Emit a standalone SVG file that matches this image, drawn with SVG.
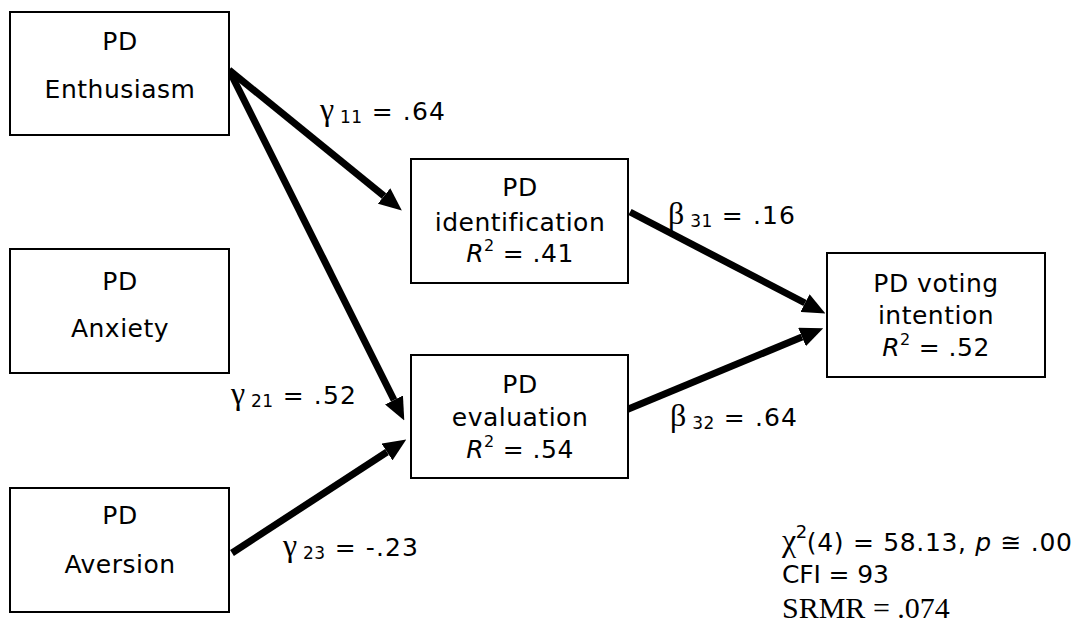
<svg xmlns="http://www.w3.org/2000/svg" width="1085" height="626" viewBox="0 0 1085 626">
<style>
  .box { fill: #fff; stroke: #000; stroke-width: 2; }
  .t { font-family: "DejaVu Sans", Verdana, sans-serif; font-size: 25px; letter-spacing: 0.5px; fill: #000; }
  .c { text-anchor: middle; }
  .lab { font-family: "DejaVu Sans", Verdana, sans-serif; font-size: 25px; letter-spacing: 1.1px; fill: #000; }
  .g { font-family: "Liberation Serif", "Times New Roman", serif; font-size: 32px; letter-spacing: 0; }
  .sub { font-size: 17px; letter-spacing: 0.5px; }
  .sup { font-size: 16px; letter-spacing: 0; }
  .sup2 { font-size: 18px; letter-spacing: 0; }
  .edge { stroke: #000; stroke-width: 7; fill: none; marker-end: url(#ah); }
  .serif { font-family: "Liberation Serif", "Times New Roman", serif; font-size: 30px; fill: #000; }
</style>
<defs>
  <marker id="ah" markerUnits="userSpaceOnUse" markerWidth="23" markerHeight="20" refX="0" refY="10" orient="auto">
    <path d="M0,0 L23,10 L0,20 Z" fill="#000"/>
  </marker>
</defs>
<rect width="1085" height="626" fill="#fff"/>

<g id="connectors">
  <line class="edge" x1="229" y1="70" x2="384" y2="196"/>
  <line class="edge" x1="229" y1="70" x2="394" y2="400"/>
  <line class="edge" x1="232" y1="553" x2="387" y2="452"/>
  <line class="edge" x1="630" y1="212" x2="805" y2="303"/>
  <line class="edge" x1="626" y1="410" x2="802" y2="337"/>
</g>

<g id="n-enthusiasm">
  <rect class="box" x="10" y="12" width="219" height="123"/>
  <text class="t c" x="120" y="50">PD</text>
  <text class="t c" x="120" y="98">Enthusiasm</text>
</g>
<g id="n-anxiety">
  <rect class="box" x="10" y="249" width="219" height="124"/>
  <text class="t c" x="120" y="290">PD</text>
  <text class="t c" x="120" y="337">Anxiety</text>
</g>
<g id="n-aversion">
  <rect class="box" x="10" y="488" width="219" height="124"/>
  <text class="t c" x="120" y="524">PD</text>
  <text class="t c" x="120" y="573">Aversion</text>
</g>
<g id="n-identification">
  <rect class="box" x="411" y="159" width="217" height="124"/>
  <text class="t c" x="520" y="196">PD</text>
  <text class="t c" x="520" y="231">identification</text>
  <text class="t c" x="520" y="262"><tspan font-style="italic">R</tspan><tspan class="sup" dy="-11">2</tspan><tspan dy="11"> = .41</tspan></text>
</g>
<g id="n-evaluation">
  <rect class="box" x="411" y="355" width="217" height="123"/>
  <text class="t c" x="520" y="393">PD</text>
  <text class="t c" x="520" y="426">evaluation</text>
  <text class="t c" x="520" y="458"><tspan font-style="italic">R</tspan><tspan class="sup" dy="-11">2</tspan><tspan dy="11"> = .54</tspan></text>
</g>
<g id="n-voting">
  <rect class="box" x="827" y="253" width="218" height="124"/>
  <text class="t c" x="936" y="292">PD voting</text>
  <text class="t c" x="936" y="324">intention</text>
  <text class="t c" x="936" y="356"><tspan font-style="italic">R</tspan><tspan class="sup" dy="-11">2</tspan><tspan dy="11"> = .52</tspan></text>
</g>

<g id="labels">
  <text class="lab" x="320" y="120"><tspan class="g">γ</tspan><tspan class="sub" dy="3"> 11</tspan><tspan dy="-3"> = .64</tspan></text>
  <text class="lab" x="668" y="224"><tspan class="g">β</tspan><tspan class="sub" dy="3"> 31</tspan><tspan dy="-3"> = .16</tspan></text>
  <text class="lab" x="231" y="404"><tspan class="g">γ</tspan><tspan class="sub" dy="3"> 21</tspan><tspan dy="-3"> = .52</tspan></text>
  <text class="lab" x="670" y="426"><tspan class="g">β</tspan><tspan class="sub" dy="3"> 32</tspan><tspan dy="-3"> = .64</tspan></text>
  <text class="lab" x="283" y="556"><tspan class="g">γ</tspan><tspan class="sub" dy="3"> 23</tspan><tspan dy="-3"> = -.23</tspan></text>
</g>

<g id="fit">
  <text class="lab" x="782" y="551" textLength="291" lengthAdjust="spacing"><tspan class="g">χ</tspan><tspan class="sup2" dy="-13">2</tspan><tspan dy="13">(4) = 58.13, </tspan><tspan font-style="italic">p</tspan><tspan> ≅ .00</tspan></text>
  <text class="lab" x="782" y="583" textLength="108" lengthAdjust="spacing">CFI = 93</text>
  <text class="serif" x="782" y="618">SRMR = .074</text>
</g>
</svg>
